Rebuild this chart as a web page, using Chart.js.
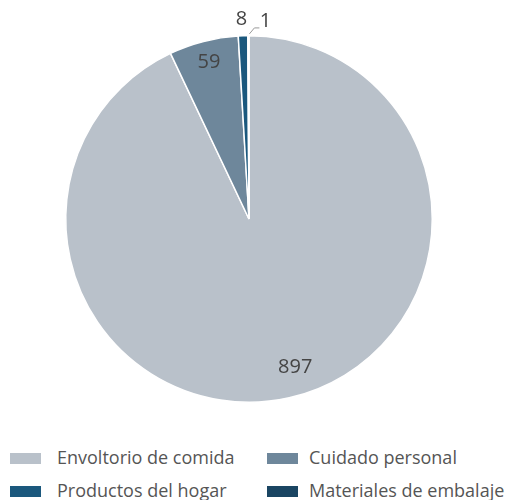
<!DOCTYPE html>
<html lang="es">
<head>
    <meta charset="UTF-8">
    <title>Pie</title>
    <script src="https://cdn.jsdelivr.net/npm/chart.js"></script>
    <style>
        body { margin: 0; background: #fff; font-family: "Open Sans", sans-serif; }
        #wrap { position: absolute; left: 0; top: 0; width: 508px; height: 420px; }
        #legend { position: absolute; left: 0; top: 0; width: 508px; }
        .box { position: absolute; width: 31px; height: 11px; }
        .txt { position: absolute; font-size: 18px; line-height: 22px; color: #555; white-space: nowrap; }
    </style>
</head>
<body>
    <div id="wrap"><canvas id="pieChart"></canvas></div>
    <div id="legend"></div>
    <script>
        // datos
        const categorias = ['Envoltorio de comida', 'Cuidado personal', 'Productos del hogar', 'Materiales de embalaje'];
        const valores = [897, 59, 8, 1];
        const colores = ['#b9c1ca', '#6e879b', '#1b587d', '#1a4562'];

        // etiquetas sobre el pastel
        const etiquetasPlugin = {
            id: 'etiquetas',
            afterDatasetsDraw(chart) {
                const ctx = chart.ctx;
                const meta = chart.getDatasetMeta(0);
                ctx.save();
                ctx.font = '20px "Open Sans", sans-serif';
                ctx.fillStyle = '#444';
                ctx.textAlign = 'center';
                ctx.textBaseline = 'middle';
                meta.data.forEach((arc, i) => {
                    const mid = (arc.startAngle + arc.endAngle) / 2;
                    const r = arc.outerRadius;
                    let x, y;
                    if (i === 0) {
                        const a = mid - 0.08;
                        x = arc.x + Math.cos(a) * r * 0.85;
                        y = arc.y + Math.sin(a) * r * 0.85;
                    } else if (i === 1) {
                        x = arc.x + Math.cos(mid) * r * 0.88;
                        y = arc.y + Math.sin(mid) * r * 0.88;
                    } else if (i === 2) {
                        x = arc.x + Math.cos(mid) * r * 1.09 - 1;
                        y = arc.y + Math.sin(mid) * r * 1.09;
                    } else {
                        // linea guia
                        const x0 = arc.x + Math.cos(mid) * r * 1.01;
                        const y0 = arc.y + Math.sin(mid) * r * 1.01;
                        ctx.strokeStyle = '#999';
                        ctx.lineWidth = 1;
                        ctx.beginPath();
                        ctx.moveTo(x0 + 1, y0);
                        ctx.lineTo(x0 + 6, y0 - 6);
                        ctx.lineTo(x0 + 11, y0 - 6);
                        ctx.stroke();
                        x = x0 + 17;
                        y = y0 - 13;
                    }
                    ctx.fillText(String(valores[i]), x, y);
                });
                ctx.restore();
            }
        };

        new Chart(document.getElementById('pieChart'), {
            type: 'pie',
            data: {
                labels: categorias,
                datasets: [{
                    data: valores,
                    backgroundColor: colores,
                    borderColor: '#fff',
                    borderWidth: 1.5
                }]
            },
            options: {
                responsive: true,
                maintainAspectRatio: false,
                animation: false,
                layout: { padding: { left: 65, right: 75, top: 35, bottom: 17 } },
                plugins: { legend: { display: false }, tooltip: { enabled: false } }
            },
            plugins: [etiquetasPlugin]
        });

        // leyenda en dos columnas
        const leg = document.getElementById('legend');
        const cajaX = [10, 267];
        const textoX = [57, 309];
        const filaY = [458, 491];
        categorias.forEach((c, i) => {
            const col = i % 2, fila = Math.floor(i / 2);
            const b = document.createElement('div');
            b.className = 'box';
            b.style.left = cajaX[col] + 'px';
            b.style.top = (filaY[fila] - 5) + 'px';
            b.style.background = colores[i];
            leg.appendChild(b);
            const t = document.createElement('div');
            t.className = 'txt';
            t.style.left = textoX[col] + 'px';
            t.style.top = (filaY[fila] - 12) + 'px';
            t.textContent = c;
            leg.appendChild(t);
        });
    </script>
</body>
</html>
